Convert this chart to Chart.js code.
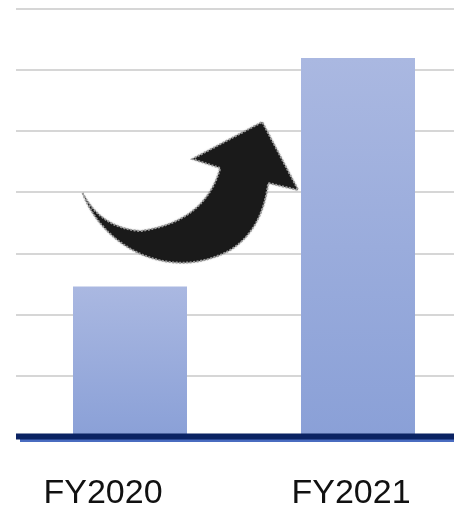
<!DOCTYPE html>
<html lang="en">
<head>
  <meta charset="UTF-8" />
  <title>FY2020 vs FY2021</title>
  <script src="https://cdn.jsdelivr.net/npm/chart.js"></script>
  <style>
    html, body { margin: 0; padding: 0; background: #fff; overflow: hidden; }
    .grafico { position: relative; width: 472px; height: 505px; }
  </style>
</head>
<body>

  <div class="grafico">
    <canvas id="graficoAnos"></canvas>
  </div>

  <script>
    const anos = ['FY2020', 'FY2021'];
    const valores = [2.46, 6.2];
    const escalaMax = 7;

    // rótulos do eixo x, um pouco deslocados em relação às barras
    const deslocRotulo = [-27, -7];
    const rotulos = {
      id: 'rotulos',
      afterDraw(chart) {
        const { ctx, scales } = chart;
        const y0 = scales.y.getPixelForValue(0);
        ctx.save();
        ctx.font = '34px "Liberation Sans", Arial, sans-serif';
        ctx.fillStyle = '#111';
        ctx.textAlign = 'center';
        ctx.textBaseline = 'alphabetic';
        anos.forEach((ano, i) => {
          ctx.fillText(ano, scales.x.getPixelForValue(i) + deslocRotulo[i], y0 + 66);
        });
        ctx.restore();
      }
    };

    // linha de base azul escura com sombra clara por baixo
    const linhaBase = {
      id: 'linhaBase',
      afterDatasetsDraw(chart) {
        const { ctx, chartArea, scales } = chart;
        const y0 = scales.y.getPixelForValue(0);
        ctx.save();
        ctx.fillStyle = '#4a6cc0';
        ctx.fillRect(chartArea.left + 4, y0 + 2, chartArea.right - chartArea.left, 3);
        ctx.fillStyle = '#0b2363';
        ctx.fillRect(chartArea.left, y0 - 3.5, chartArea.right - chartArea.left, 6);
        ctx.restore();
      }
    };

    // seta curva preta entre as duas barras
    const seta = {
      id: 'seta',
      afterDatasetsDraw(chart) {
        const { ctx, scales } = chart;
        const x = scales.x, y = scales.y;
        const a = x.getPixelForValue(0), b = x.getPixelForValue(1);
        const u = (b - a) / 228.5;
        const px = v => a + (v - 129.5) * u;
        const py = v => y.getPixelForValue(0) + (v - 437);
        ctx.save();
        ctx.beginPath();
        ctx.moveTo(px(82), py(193));
        ctx.bezierCurveTo(px(104), py(250), px(172), py(282), px(230), py(250));
        ctx.quadraticCurveTo(px(262), py(230), px(268), py(183));
        ctx.lineTo(px(298), py(190));
        ctx.lineTo(px(262), py(122));
        ctx.lineTo(px(192), py(159));
        ctx.lineTo(px(220), py(168));
        ctx.quadraticCurveTo(px(205), py(222), px(140), py(231));
        ctx.quadraticCurveTo(px(100), py(228), px(82), py(193));
        ctx.closePath();
        ctx.shadowColor = 'rgba(120,120,120,0.9)';
        ctx.shadowBlur = 2;
        ctx.fillStyle = '#1a1a1a';
        ctx.fill();
        ctx.shadowBlur = 0;
        ctx.setLineDash([2, 1.5]);
        ctx.strokeStyle = '#9a9a9a';
        ctx.lineWidth = 2;
        ctx.stroke();
        ctx.restore();
      }
    };

    const ctx = document.getElementById('graficoAnos');
    new Chart(ctx, {
      type: 'bar',
      data: {
        labels: anos,
        datasets: [{
          data: valores,
          // degradê próprio de cada barra, do topo até a base
          backgroundColor(c) {
            const area = c.chart.chartArea;
            const esc = c.chart.scales.y;
            if (!area || !esc || c.raw === undefined) return '#99abdc';
            const topo = esc.getPixelForValue(c.raw);
            const g = c.chart.ctx.createLinearGradient(0, topo, 0, esc.getPixelForValue(0));
            g.addColorStop(0, '#aab8e1');
            g.addColorStop(1, '#8aa0d7');
            return g;
          },
          borderWidth: 0,
          barPercentage: 0.5,
          categoryPercentage: 1
        }]
      },
      options: {
        responsive: true,
        maintainAspectRatio: false,
        animation: false,
        layout: { padding: { top: 9, left: 16, right: 0, bottom: 0 } },
        plugins: { legend: { display: false }, tooltip: { enabled: false } },
        scales: {
          x: {
            grid: { display: false },
            border: { display: false },
            ticks: { display: false },
            afterFit(scale) { scale.height = 68; }
          },
          y: {
            min: 0,
            max: escalaMax,
            ticks: { display: false, stepSize: 1 },
            grid: { color: '#d6d6d6', lineWidth: 2, drawTicks: false },
            border: { display: false },
            afterFit(scale) { scale.width = 0; }
          }
        }
      },
      plugins: [seta, linhaBase, rotulos]
    });
  </script>

</body>
</html>
